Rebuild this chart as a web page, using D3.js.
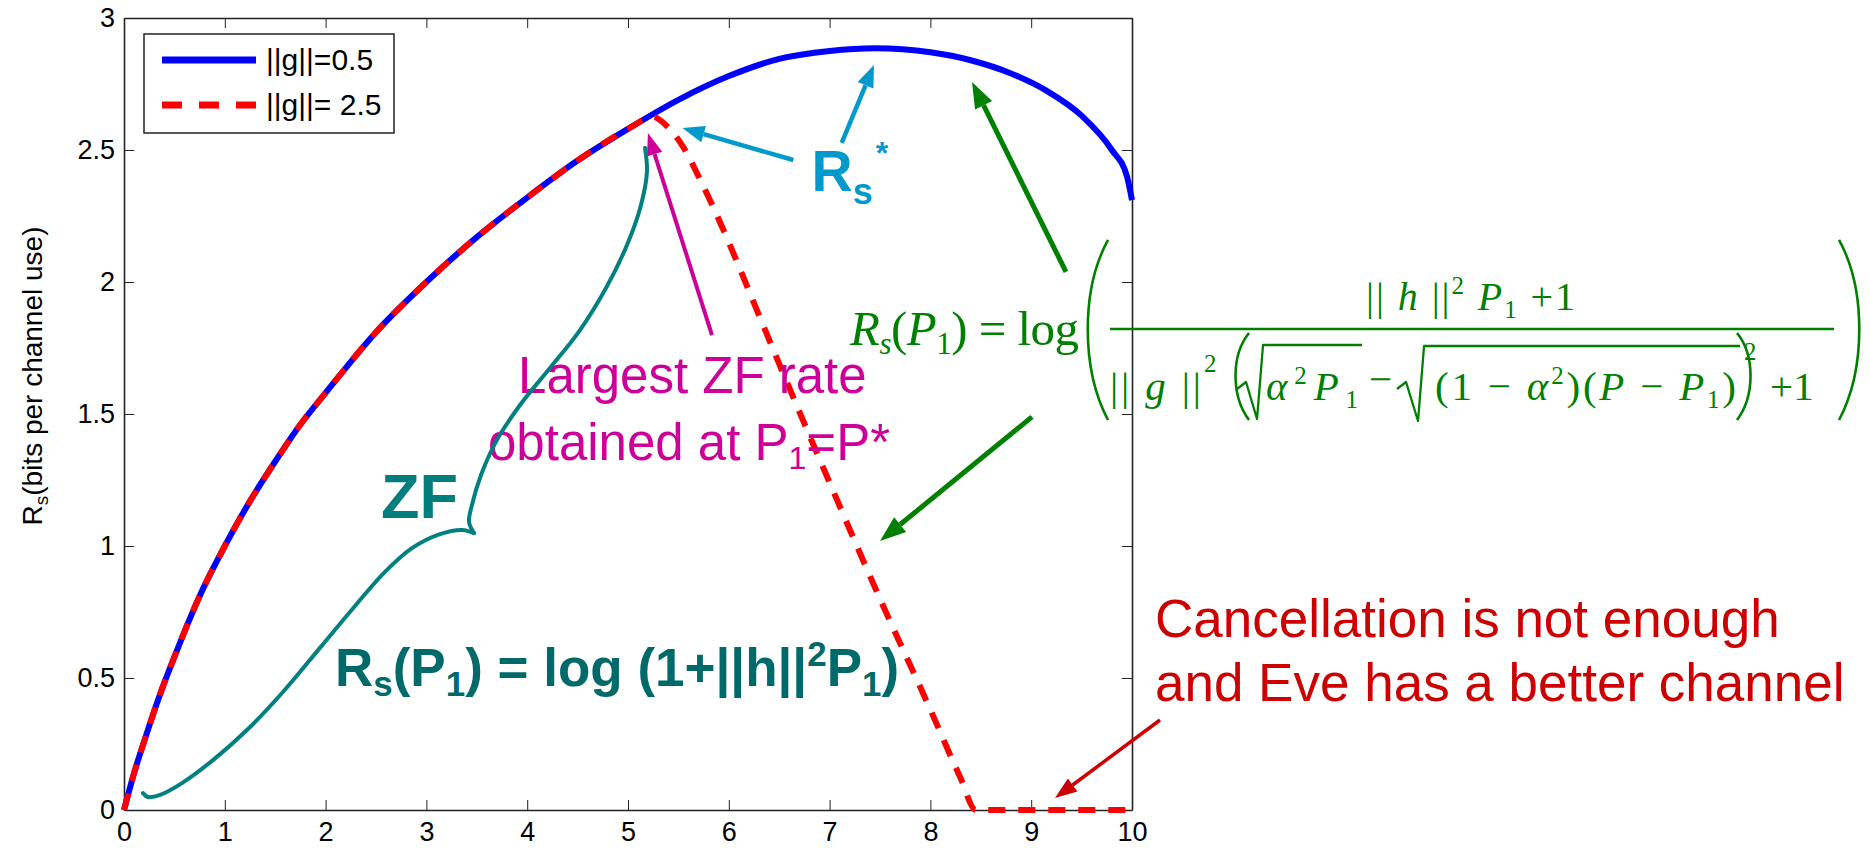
<!DOCTYPE html>
<html>
<head>
<meta charset="utf-8">
<script src="https://cdn.jsdelivr.net/npm/d3@7"></script>
<style>
  body { margin: 0; background: #fff; }
  svg { display: block; }
  .axis text { font-family: "Liberation Sans", Arial, sans-serif; font-size: 27px; fill: #000; }
  .axis path, .axis line { stroke: #222; }
</style>
</head>
<body>
<div id="chart"></div>
<script>
// secrecy rate vs P1, two eavesdropper channel gains

// ||g|| = 0.5
const p1Blue = [0, 0.1, 0.2, 0.35, 0.5, 0.75, 1, 1.25, 1.5, 1.75, 2, 2.5, 3, 3.5, 4, 4.5, 5, 5.5, 6, 6.5, 7, 7.45, 8, 8.4, 8.8, 9.15, 9.5, 9.8, 9.95, 10];
const rsBlue = [0, 0.14, 0.26, 0.43, 0.58, 0.81, 1.0, 1.17, 1.32, 1.46, 1.58, 1.81, 2.0, 2.17, 2.32, 2.46, 2.58, 2.69, 2.78, 2.845, 2.875, 2.885, 2.87, 2.84, 2.79, 2.725, 2.63, 2.5, 2.40, 2.31];

// ||g|| = 2.5
const p1Red = [0, 0.1, 0.2, 0.35, 0.5, 0.75, 1, 1.25, 1.5, 1.75, 2, 2.5, 3, 3.5, 4, 4.5, 5, 5.25, 5.4, 5.55, 5.7, 5.85, 6, 6.25, 6.5, 7, 7.5, 8, 8.3, 8.45, 9, 9.5, 10];
const rsRed = [0, 0.14, 0.26, 0.43, 0.58, 0.81, 1.0, 1.17, 1.32, 1.46, 1.58, 1.81, 2.0, 2.17, 2.32, 2.46, 2.58, 2.625, 2.585, 2.51, 2.40, 2.28, 2.15, 1.92, 1.69, 1.24, 0.80, 0.38, 0.12, 0, 0, 0, 0];

const legendLabels = ["||g||=0.5", "||g||= 2.5"];
const xTicks = [0, 1, 2, 3, 4, 5, 6, 7, 8, 9, 10];
const yTicks = [0, 0.5, 1, 1.5, 2, 2.5, 3];

const svgWidth = 1870;
const svgHeight = 852;
const margin = { top: 18, right: 738, bottom: 42, left: 124 };
const width = svgWidth - margin.left - margin.right;
const height = svgHeight - margin.top - margin.bottom;

const svg = d3.select("#chart").append("svg")
  .attr("width", svgWidth)
  .attr("height", svgHeight);

const g = svg.append("g")
  .attr("transform", `translate(${margin.left}, ${margin.top})`);

const x = d3.scaleLinear().domain([0, 10]).range([0, width]);
const y = d3.scaleLinear().domain([0, 3]).range([height, 0]);

// axes, ticks pointing inward like matlab
g.append("g").attr("class", "axis")
  .attr("transform", `translate(0, ${height})`)
  .call(d3.axisBottom(x).tickValues(xTicks).tickSizeInner(-10).tickSizeOuter(0).tickPadding(12).tickFormat(d3.format("")));
g.append("g").attr("class", "axis")
  .call(d3.axisTop(x).tickValues(xTicks).tickSizeInner(-10).tickSizeOuter(0).tickFormat(""));
g.append("g").attr("class", "axis")
  .call(d3.axisLeft(y).tickValues(yTicks).tickSizeInner(-10).tickSizeOuter(0).tickPadding(9).tickFormat(d3.format("")));
g.append("g").attr("class", "axis")
  .attr("transform", `translate(${width}, 0)`)
  .call(d3.axisRight(y).tickValues(yTicks).tickSizeInner(-10).tickSizeOuter(0).tickFormat(""));
g.selectAll(".axis .domain").attr("stroke-width", 1.6);

// y axis label
const yLab = g.append("text")
  .attr("transform", `translate(${-margin.left + 42}, ${height / 2 - 38}) rotate(-90)`)
  .attr("text-anchor", "middle")
  .style("font-family", "Liberation Sans, Arial, sans-serif")
  .style("font-size", "28px");
yLab.append("tspan").text("R");
yLab.append("tspan").attr("dy", 6).style("font-size", "19px").text("s");
yLab.append("tspan").attr("dy", -6).text("(bits per channel use)");

// curves
const line = d3.line()
  .x(d => x(d[0]))
  .y(d => y(d[1]))
  .curve(d3.curveMonotoneX);

g.append("path")
  .datum(d3.zip(p1Blue, rsBlue))
  .attr("d", line)
  .attr("fill", "none")
  .attr("stroke", "#0000ff")
  .attr("stroke-width", 6);

g.append("path")
  .datum(d3.zip(p1Red, rsRed))
  .attr("d", line)
  .attr("fill", "none")
  .attr("stroke", "#ff0000")
  .attr("stroke-width", 6)
  .attr("stroke-dasharray", "17,13");

// legend
const legend = g.append("g").attr("transform", "translate(20, 16)");
legend.append("rect")
  .attr("width", 250).attr("height", 99)
  .attr("fill", "#fff").attr("stroke", "#222").attr("stroke-width", 1.5);
legendLabels.forEach(function (lab, i) {
  const ly = 26 + i * 45;
  legend.append("line")
    .attr("x1", 18).attr("x2", 112).attr("y1", ly).attr("y2", ly)
    .attr("stroke", i === 0 ? "#0000ff" : "#ff0000")
    .attr("stroke-width", 7)
    .attr("stroke-dasharray", i === 0 ? null : "20,17");
  legend.append("text")
    .attr("x", 122).attr("y", ly + 10)
    .style("font-family", "Liberation Sans, Arial, sans-serif")
    .style("font-size", "30px")
    .text(lab);
});

// ---------- annotations (positions given in P1 / Rs units) ----------
const sans = "Liberation Sans, Arial, sans-serif";
const serif = "Liberation Serif, Times New Roman, serif";

function arrow(x1, y1, x2, y2, color, w, headLen, headW) {
  const ax = x(x1), ay = y(y1), bx = x(x2), by = y(y2);
  const ang = Math.atan2(by - ay, bx - ax);
  const cx = bx - headLen * Math.cos(ang), cy = by - headLen * Math.sin(ang);
  g.append("line")
    .attr("x1", ax).attr("y1", ay).attr("x2", cx).attr("y2", cy)
    .attr("stroke", color).attr("stroke-width", w);
  const px = -Math.sin(ang) * headW / 2, py = Math.cos(ang) * headW / 2;
  g.append("polygon")
    .attr("points", `${bx},${by} ${cx + px},${cy + py} ${cx - px},${cy - py}`)
    .attr("fill", color);
}

// Rs*
const rsStar = g.append("text")
  .attr("x", x(6.82)).attr("y", y(2.345))
  .attr("fill", "#0099cc")
  .style("font-family", sans).style("font-weight", "bold").style("font-size", "57px");
rsStar.append("tspan").text("R");
rsStar.append("tspan").attr("dy", 13).style("font-size", "36px").text("s");
rsStar.append("tspan").attr("dy", -40).attr("dx", 3).style("font-size", "32px").text("*");
arrow(7.12, 2.527, 7.44, 2.822, "#0099cc", 4.5, 22, 17);
arrow(6.64, 2.462, 5.54, 2.583, "#0099cc", 4.5, 22, 17);

// magenta: largest ZF rate
arrow(5.833, 1.799, 5.198, 2.564, "#cc0099", 4, 22, 16);
g.append("text")
  .attr("x", x(3.909)).attr("y", y(1.58))
  .attr("fill", "#cc0099")
  .style("font-family", sans).style("font-size", "51px")
  .text("Largest ZF rate");
const obt = g.append("text")
  .attr("x", x(3.611)).attr("y", y(1.326))
  .attr("fill", "#cc0099")
  .style("font-family", sans).style("font-size", "51px");
obt.append("tspan").text("obtained at P");
obt.append("tspan").attr("dy", 9).style("font-size", "32px").text("1");
obt.append("tspan").attr("dy", -9).text("=P*");

// ZF brace, two arms meeting at the tip
const braceUpperP1 = [5.169, 5.188, 5.129, 4.990, 4.782, 4.524, 4.226, 3.929, 3.700, 3.542, 3.452, 3.423, 3.472];
const braceUpperRs = [2.508, 2.417, 2.292, 2.140, 1.977, 1.818, 1.674, 1.534, 1.402, 1.269, 1.155, 1.091, 1.049];
const braceLowerP1 = [3.472, 3.353, 3.135, 2.857, 2.589, 2.292, 1.944, 1.577, 1.220, 0.883, 0.575, 0.357, 0.238, 0.188];
const braceLowerRs = [1.049, 1.061, 1.045, 0.992, 0.902, 0.773, 0.614, 0.447, 0.303, 0.189, 0.102, 0.057, 0.049, 0.064];
const braceLine = d3.line().x(d => x(d[0])).y(d => y(d[1])).curve(d3.curveCatmullRom.alpha(0.5));
[[braceUpperP1, braceUpperRs], [braceLowerP1, braceLowerRs]].forEach(function (arm) {
  g.append("path")
    .datum(d3.zip(arm[0], arm[1]))
    .attr("d", braceLine)
    .attr("fill", "none").attr("stroke", "#008080").attr("stroke-width", 4)
    .attr("stroke-linecap", "round").attr("stroke-linejoin", "round");
});

g.append("text")
  .attr("x", x(2.55)).attr("y", y(1.106))
  .attr("fill", "#007d7d")
  .style("font-family", sans).style("font-weight", "bold").style("font-size", "63px")
  .text("ZF");

const zfEq = g.append("text")
  .attr("x", x(2.093)).attr("y", y(0.47))
  .attr("fill", "#006a6a")
  .style("font-family", sans).style("font-weight", "bold").style("font-size", "53px");
zfEq.append("tspan").text("R");
zfEq.append("tspan").attr("dy", 10).style("font-size", "35px").text("s");
zfEq.append("tspan").attr("dy", -10).text("(P");
zfEq.append("tspan").attr("dy", 10).style("font-size", "35px").text("1");
zfEq.append("tspan").attr("dy", -10).text(") = log (1+||h||");
zfEq.append("tspan").attr("dy", -20).style("font-size", "35px").text("2");
zfEq.append("tspan").attr("dy", 20).text("P");
zfEq.append("tspan").attr("dy", 10).style("font-size", "35px").text("1");
zfEq.append("tspan").attr("dy", -10).text(")");

// green formula for Rs(P1), laid out around the fraction bar
arrow(9.345, 2.038, 8.413, 2.758, "#008000", 5, 26, 19);
arrow(9.008, 1.489, 7.5, 1.019, "#008000", 5, 26, 19);

const fx = x(9.782), fy = y(1.822);
const fg = g.append("g").attr("transform", `translate(${fx}, ${fy})`)
  .attr("fill", "#008000");
const green = "#008000";

function ftext(tx, ty, size, parts, len) {
  const t = fg.append("text").attr("x", tx).attr("y", ty)
    .style("font-family", serif).style("font-size", size + "px");
  parts.forEach(function (p) {
    const s = t.append("tspan").text(p[0]);
    if (p[1]) s.style("font-style", "italic");
    if (p[2]) s.style("font-size", p[2] + "px");
    if (p[3]) s.attr("dy", p[3]);
  });
  if (len) t.attr("textLength", len).attr("lengthAdjust", "spacing");
  return t;
}
function fpath(d, w) {
  fg.append("path").attr("d", d)
    .attr("fill", "none").attr("stroke", green).attr("stroke-width", w)
    .attr("stroke-linejoin", "round");
}

// left hand side
ftext(-260, 16, 49, [["R", true], ["s", true, 31, 9], ["(", false, null, -9], ["P", true], ["1", false, 31, 9], [")", false, null, -9], [" = log", false]], 229);

// fraction bar and big brackets
fg.append("line").attr("x1", 0).attr("x2", 724).attr("y1", 0).attr("y2", 0)
  .attr("stroke", green).attr("stroke-width", 2.6);
fpath("M-2,-89 C-29,-40 -29,40 -2,91", 2.6);
fpath("M729,-89 C756,-40 756,40 729,91", 2.6);

// numerator
ftext(256, -19, 40, [["|| ", false], ["h", true], [" ||", false], ["2", false, 25, -16], [" P", true, null, 16], ["1", false, 25, 8], [" +1", false, null, -8]], 209);

// denominator
ftext(0, 71, 41, [["||", false], [" g", true], [" ||", false]], 91);
ftext(94, 43, 25, [["2", false]]);
fpath("M139,4 C121,26 121,67 139,91", 2.6);
fpath("M127,60 L136,53 L147,90 L153,16 L252,16", 2.3);
ftext(156, 71, 41, [["α", true], ["2", false, 25, -16], ["P", true, null, 16], ["1", false, 25, 8]], 92);
ftext(259, 64, 41, [["−", false]]);
fpath("M287,60 L296,53 L308,92 L314,17 L630,17", 2.3);
ftext(325, 71, 41, [["(1 − ", false], ["α", true], ["2", false, 25, -16], [")(", false, null, 16], ["P", true], [" − ", false], ["P", true], ["1", false, 25, 8], [")", false, null, -8]], 301);
fpath("M627,4 C645,26 645,67 627,91", 2.6);
ftext(634, 31, 25, [["2", false]]);
ftext(660, 71, 41, [["+1", false]]);

// red note
arrow(10.278, 0.341, 9.236, 0.045, "#cc0000", 3.5, 22, 16);
const note = g.append("text")
  .attr("fill", "#cc0000")
  .style("font-family", sans).style("font-size", "53px");
note.append("tspan").attr("x", x(10.228)).attr("y", y(0.655)).text("Cancellation is not enough");
note.append("tspan").attr("x", x(10.228)).attr("y", y(0.413)).text("and Eve has a better channel");
</script>
</body>
</html>
